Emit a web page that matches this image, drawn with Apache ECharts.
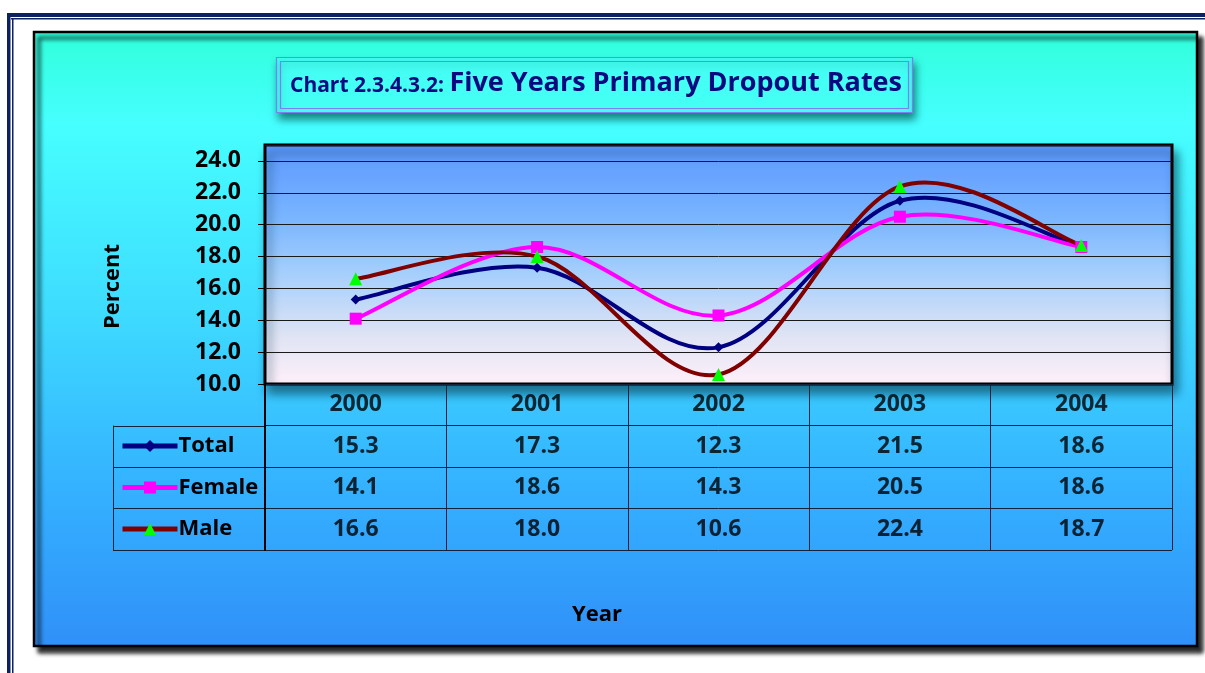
<!DOCTYPE html>
<html>
<head>
<meta charset="utf-8">
<script src="https://cdn.jsdelivr.net/npm/echarts@6/dist/echarts.min.js"></script>
<style>
html,body{margin:0;padding:0;background:#fff;}
#main{width:1205px;height:673px;}
</style>
</head>
<body>
<div id="main"></div>
<script>
var years = ['2000', '2001', '2002', '2003', '2004'];
var total = [15.3, 17.3, 12.3, 21.5, 18.6];
var female = [14.1, 18.6, 14.3, 20.5, 18.6];
var male = [16.6, 18.0, 10.6, 22.4, 18.7];
var rowNames = ['Total', 'Female', 'Male'];
var lineColors = ['#000080', '#ff00ff', '#800000'];

var FONT = '"Open Sans", sans-serif';

// table cells: header row + one row per series
var cells = [];
years.forEach(function (y) { cells.push([y, '', y]); });
[total, female, male].forEach(function (arr, r) {
    arr.forEach(function (v, i) {
        cells.push([years[i], rowNames[r], v.toFixed(1)]);
    });
});

// excel-like smoothed line: one bezier segment per point (catmull-rom style)
function smoothSeries(arr, color) {
    return {
        type: 'custom', z: 2, silent: true,
        data: arr.map(function (v, i) { return [i, v]; }),
        renderItem: function (params, api) {
            var i = params.dataIndex;
            if (i >= arr.length - 1) return null;
            var p = function (k) {
                k = Math.max(0, Math.min(arr.length - 1, k));
                return api.coord([k, arr[k]]);
            };
            var p0 = p(i - 1), p1 = p(i), p2 = p(i + 1), p3 = p(i + 2);
            return {
                type: 'bezierCurve',
                shape: {
                    x1: p1[0], y1: p1[1], x2: p2[0], y2: p2[1],
                    cpx1: p1[0] + (p2[0] - p0[0]) / 6, cpy1: p1[1] + (p2[1] - p0[1]) / 6,
                    cpx2: p2[0] - (p3[0] - p1[0]) / 6, cpy2: p2[1] - (p3[1] - p1[1]) / 6
                },
                style: {stroke: color, lineWidth: 4, fill: null, lineCap: 'round'}
            };
        }
    };
}

var myChart = echarts.init(document.getElementById('main'));

var option = {
    backgroundColor: '#fff',
    animation: false,
    title: {
        left: 285,
        top: 65,
        text: '{a|Chart 2.3.4.3.2: }{b|Five Years Primary Dropout Rates}',
        textStyle: {
            rich: {
                a: {fontFamily: FONT, fontWeight: 'bold', fontSize: 21, color: '#0a0a80', verticalAlign: 'bottom'},
                b: {fontFamily: FONT, fontWeight: 'bold', fontSize: 27, color: '#0a0a80', verticalAlign: 'bottom'}
            }
        }
    },
    graphic: [
        // page border
        {type: 'rect', z: -20, shape: {x: 7, y: 13, width: 1198, height: 4}, style: {fill: '#0c2260'}},
        {type: 'rect', z: -20, shape: {x: 11, y: 18, width: 1194, height: 1.5}, style: {fill: '#0c2260'}},
        {type: 'rect', z: -20, shape: {x: 7, y: 13, width: 3.5, height: 660}, style: {fill: '#0c2260'}},
        {type: 'rect', z: -20, shape: {x: 12, y: 18, width: 1.5, height: 655}, style: {fill: '#0c2260'}},
        // chart area
        {
            type: 'rect', z: -10,
            shape: {x: 34, y: 32, width: 1163, height: 614},
            style: {
                fill: new echarts.graphic.LinearGradient(0, 0, 0, 1, [
                    {offset: 0, color: '#30ffda'},
                    {offset: 0.15, color: '#46ffff'},
                    {offset: 0.45, color: '#3edcff'},
                    {offset: 0.75, color: '#34b0ff'},
                    {offset: 1, color: '#3090f8'}
                ]),
                stroke: '#000', lineWidth: 2.5,
                shadowBlur: 4, shadowOffsetX: 5, shadowOffsetY: 6, shadowColor: 'rgba(0,0,0,0.85)'
            }
        },
        // title box
        {
            type: 'rect', z: -5,
            shape: {x: 276.5, y: 57.5, width: 636, height: 55},
            style: {
                fill: '#44fff4', stroke: '#7e7ef0', lineWidth: 1.2,
                shadowBlur: 8, shadowOffsetX: 2, shadowOffsetY: 6, shadowColor: 'rgba(0,90,90,0.75)'
            }
        },
        {
            type: 'rect', z: -4,
            shape: {x: 280.5, y: 61.5, width: 628, height: 47},
            style: {fill: 'none', stroke: '#7e7ef0', lineWidth: 1.2}
        },
        {
            type: 'text', z: 5,
            rotation: Math.PI / 2,
            x: 102, y: 329,
            style: {text: 'Percent', font: 'bold 22px ' + FONT, fill: '#000'}
        },
        {
            type: 'text', z: 5,
            x: 597, y: 615,
            style: {text: 'Year', font: 'bold 22px ' + FONT, fill: '#000', align: 'center', verticalAlign: 'middle'}
        }
    ],
    legend: {
        data: rowNames,
        orient: 'vertical',
        left: 120,
        top: 432,
        padding: 0,
        itemWidth: 55,
        itemHeight: 15,
        itemGap: 13.5,
        lineStyle: {width: 5, opacity: 1},
        textStyle: {fontFamily: FONT, fontWeight: 'bold', fontSize: 22, color: '#000', lineHeight: 28, padding: [0, 0, 0, -4]},
        selectedMode: false
    },
    grid: [
        {
            left: 265, top: 145, width: 907, height: 239,
            show: true,
            borderColor: '#000', borderWidth: 3,
            backgroundColor: new echarts.graphic.LinearGradient(0, 0, 0, 1, [
                {offset: 0, color: '#5c98ff'},
                {offset: 0.3, color: '#78b4ff'},
                {offset: 0.55, color: '#a8d0fc'},
                {offset: 0.8, color: '#e0e4f4'},
                {offset: 1, color: '#fff0fa'}
            ]),
            shadowBlur: 10, shadowOffsetX: 4, shadowOffsetY: 8, shadowColor: 'rgba(0,50,70,0.6)'
        },
        {left: 265, top: 384, width: 907, height: 166},
        {left: 113, top: 426, width: 152, height: 124}
    ],
    xAxis: [
        {
            gridIndex: 0, type: 'category', data: years, boundaryGap: true,
            axisLine: {show: false}, axisTick: {show: false}, axisLabel: {show: false}
        },
        {
            gridIndex: 1, type: 'category', data: years, boundaryGap: true,
            axisLine: {show: false}, axisTick: {show: false}, axisLabel: {show: false},
            splitLine: {show: true, interval: 0, lineStyle: {color: '#12233a', width: 1}}
        },
        {gridIndex: 2, type: 'value', show: false}
    ],
    yAxis: [
        {
            gridIndex: 0, type: 'value', min: 10, max: 25, interval: 2,
            axisLine: {show: false},
            axisTick: {show: true, length: 7, lineStyle: {color: '#000', width: 1}},
            axisLabel: {
                showMaxLabel: false, margin: 24,
                fontFamily: FONT, fontWeight: 'bold', fontSize: 23, color: '#000',
                formatter: function (v) { return v.toFixed(1); }
            },
            splitLine: {show: true, lineStyle: {color: '#1a1a1a', width: 1}}
        },
        {
            gridIndex: 1, type: 'category', data: [''].concat(rowNames), inverse: true,
            axisLine: {show: true, lineStyle: {color: '#000', width: 2}},
            axisTick: {show: false}, axisLabel: {show: false},
            splitLine: {show: true, interval: 0, lineStyle: {color: '#12233a', width: 1}}
        },
        {
            gridIndex: 2, type: 'category', data: rowNames, inverse: true,
            axisLine: {show: true, lineStyle: {color: '#12233a', width: 1}},
            axisTick: {show: false}, axisLabel: {show: false},
            splitLine: {show: true, interval: 0, lineStyle: {color: '#12233a', width: 1}}
        }
    ],
    series: [
        smoothSeries(total, lineColors[0]),
        smoothSeries(female, lineColors[1]),
        smoothSeries(male, lineColors[2]),
        {
            name: 'Total', type: 'line', data: total, z: 3,
            symbol: 'diamond', symbolSize: 10,
            itemStyle: {color: '#000080'},
            lineStyle: {color: lineColors[0], width: 4, opacity: 0}
        },
        {
            name: 'Female', type: 'line', data: female, z: 3,
            symbol: 'rect', symbolSize: 12,
            itemStyle: {color: '#ff00ff'},
            lineStyle: {color: lineColors[1], width: 4, opacity: 0}
        },
        {
            name: 'Male', type: 'line', data: male, z: 3,
            symbol: 'triangle', symbolSize: 13,
            itemStyle: {color: '#00ff00'},
            lineStyle: {color: lineColors[2], width: 4, opacity: 0}
        },
        {
            name: 'table', type: 'scatter', xAxisIndex: 1, yAxisIndex: 1,
            data: cells, symbolSize: 1, silent: true,
            itemStyle: {color: 'rgba(0,0,0,0)'},
            label: {
                show: true, position: 'inside',
                fontFamily: FONT, fontWeight: 'bold', fontSize: 23, color: '#000',
                formatter: function (p) { return p.data[2]; }
            }
        }
    ]
};

myChart.setOption(option);
</script>
</body>
</html>
